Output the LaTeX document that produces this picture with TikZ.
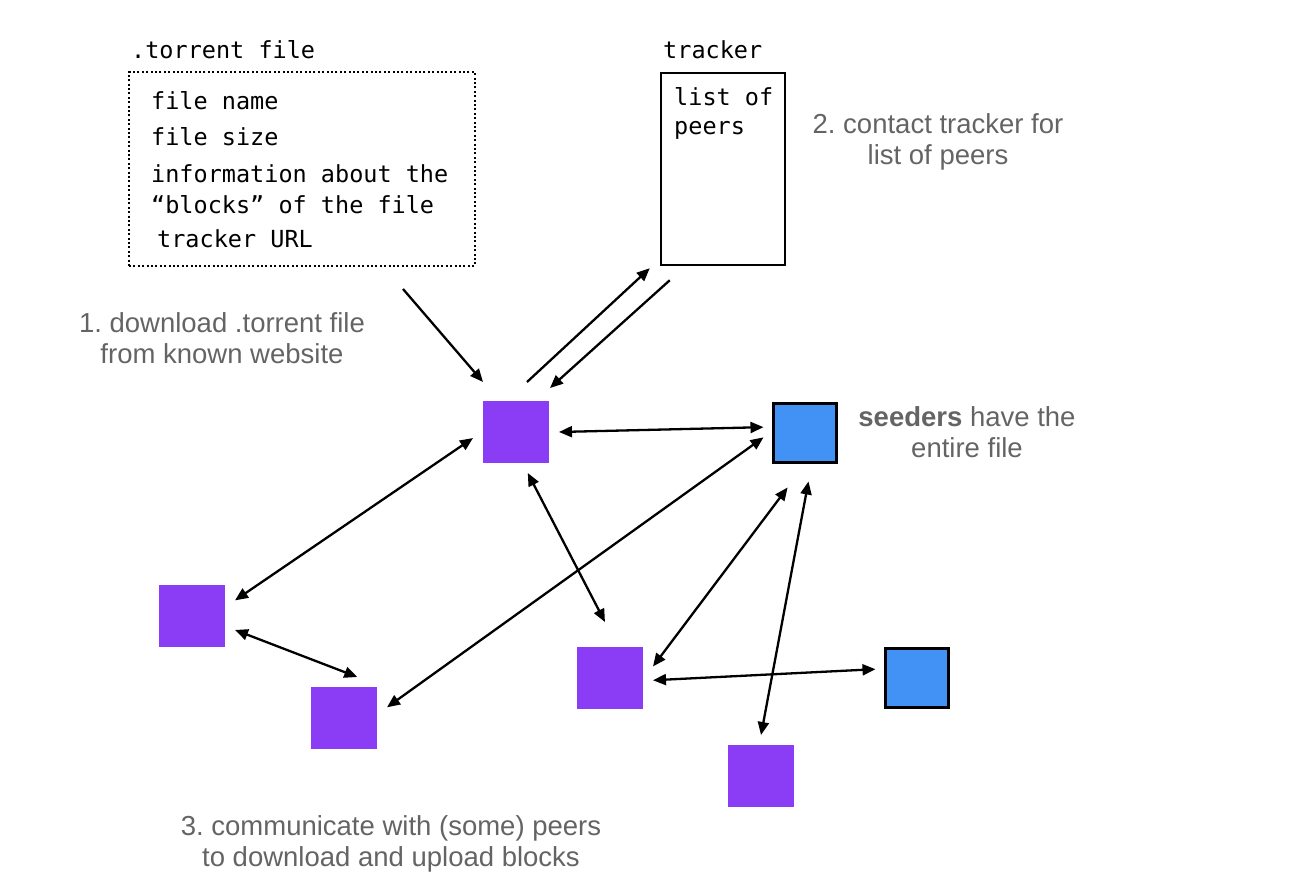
\documentclass[tikz,border=0pt]{standalone}
\usepackage{fontspec}
\setmainfont{Liberation Sans}
\newfontfamily\codefont{DejaVu Sans Mono}
\usepackage{xcolor}
\usetikzlibrary{arrows.meta, positioning, calc}

\definecolor{peerpurple}{RGB}{138,61,245}
\definecolor{seedblue}{RGB}{66,146,245}
\definecolor{stepgray}{RGB}{100,100,100}
\frenchspacing

\begin{document}
\begin{tikzpicture}[
        x=1pt, y=-1pt,
        >={Triangle[length=13pt, width=11pt]},
        peer/.style   ={rectangle, fill=peerpurple, minimum width=66pt,
                        minimum height=62pt, inner sep=0pt, outer sep=10pt},
        seeder/.style ={peer, fill=seedblue, draw=black, line width=3pt,
                        minimum width=63pt, minimum height=59pt},
        code/.style   ={font=\codefont\fontsize{23.5}{28}\selectfont,
                        anchor=base west, inner sep=0pt},
        steptxt/.style={font=\fontsize{27.5}{31}\selectfont, text=stepgray,
                        align=center, inner sep=0pt},
        link/.style   ={line width=2.3pt}
    ]
    \useasboundingbox (0,0) rectangle (1306,882);

    %% ---- .torrent file -------------------------------------------------
    \node[code] (torlbl) at (131,59) {.torrent file};
    \node[draw, line width=2pt, dash pattern=on 2pt off 2.4pt,
          minimum width=346pt, minimum height=194pt] (torrent) at (302,169) {};
    \node[code] (f1) at (151,110) {file name};
    \node[code] (f2) at (151,146) {file size};
    \node[code] (f3) at (151,183) {information about the};
    \node[code] (f4) at (151,214) {“blocks” of the file};
    \node[code] (f5) at (157,248) {tracker URL};

    %% ---- tracker -------------------------------------------------------
    \node[code] (trklbl) at (663,59) {tracker};
    \node[draw, line width=2.5pt, minimum width=124pt,
          minimum height=192pt] (trk) at (723,169) {};
    \node[code] (l1) at (674,106) {list of};
    \node[code] (l2) at (674,135) {peers};

    %% ---- step texts ----------------------------------------------------
    \node[steptxt] (step1) at (222,338) {1. download .torrent file\\from known website};
    \node[steptxt] (step2) at (938,142) {2. contact tracker for\\list of peers};
    \node[steptxt] (seedtxt) at (967,432) {\textbf{seeders} have the\\entire file};
    \node[steptxt] (step3) at (391,844) {3. communicate with (some) peers\\to download and upload blocks};

    %% ---- peers and seeders ---------------------------------------------
    \node[peer]   (p1) at (516,432) {};
    \node[seeder] (s1) at (805,433) {};
    \node[peer]   (p2) at (192,616) {};
    \node[peer]   (p3) at (344,718) {};
    \node[peer]   (p4) at (610,678) {};
    \node[seeder] (s2) at (917,678) {};
    \node[peer]   (p5) at (761,776) {};

    %% ---- connectors ----------------------------------------------------
    \draw[link, ->] ([xshift=-73pt,yshift=-22pt]torrent.south east)
        -- ([xshift=10pt,yshift=9pt]p1.north west);
    \draw[link, ->] ([xshift=11pt,yshift=9pt]p1.north)
        -- ([xshift=-10pt,yshift=-2pt]trk.south west);
    \draw[link, ->] ([xshift=10pt,yshift=-14pt]trk.south west)
        -- ([xshift=-9pt,yshift=3pt]p1.north east);

    \draw[link, <->] (p1.east) -- (s1.172);
    \draw[link, <->] (p1.188) -- (p2.20);
    \draw[link, <->] (p2.-18) -- (p3.72);
    \draw[link, <->] (p1.-74) -- ([yshift=15pt]p4.97);
    \draw[link, <->] (s1.186) -- (p3.14);
    \draw[link, <->] ([xshift=-3pt,yshift=-15pt]s1.-110) -- (p4.15);
    \draw[link, <->] ([yshift=-9pt]s1.-85) -- (p5.north);
    \draw[link, <->] (p4.-3) -- (s2.168);

\end{tikzpicture}
\end{document}
